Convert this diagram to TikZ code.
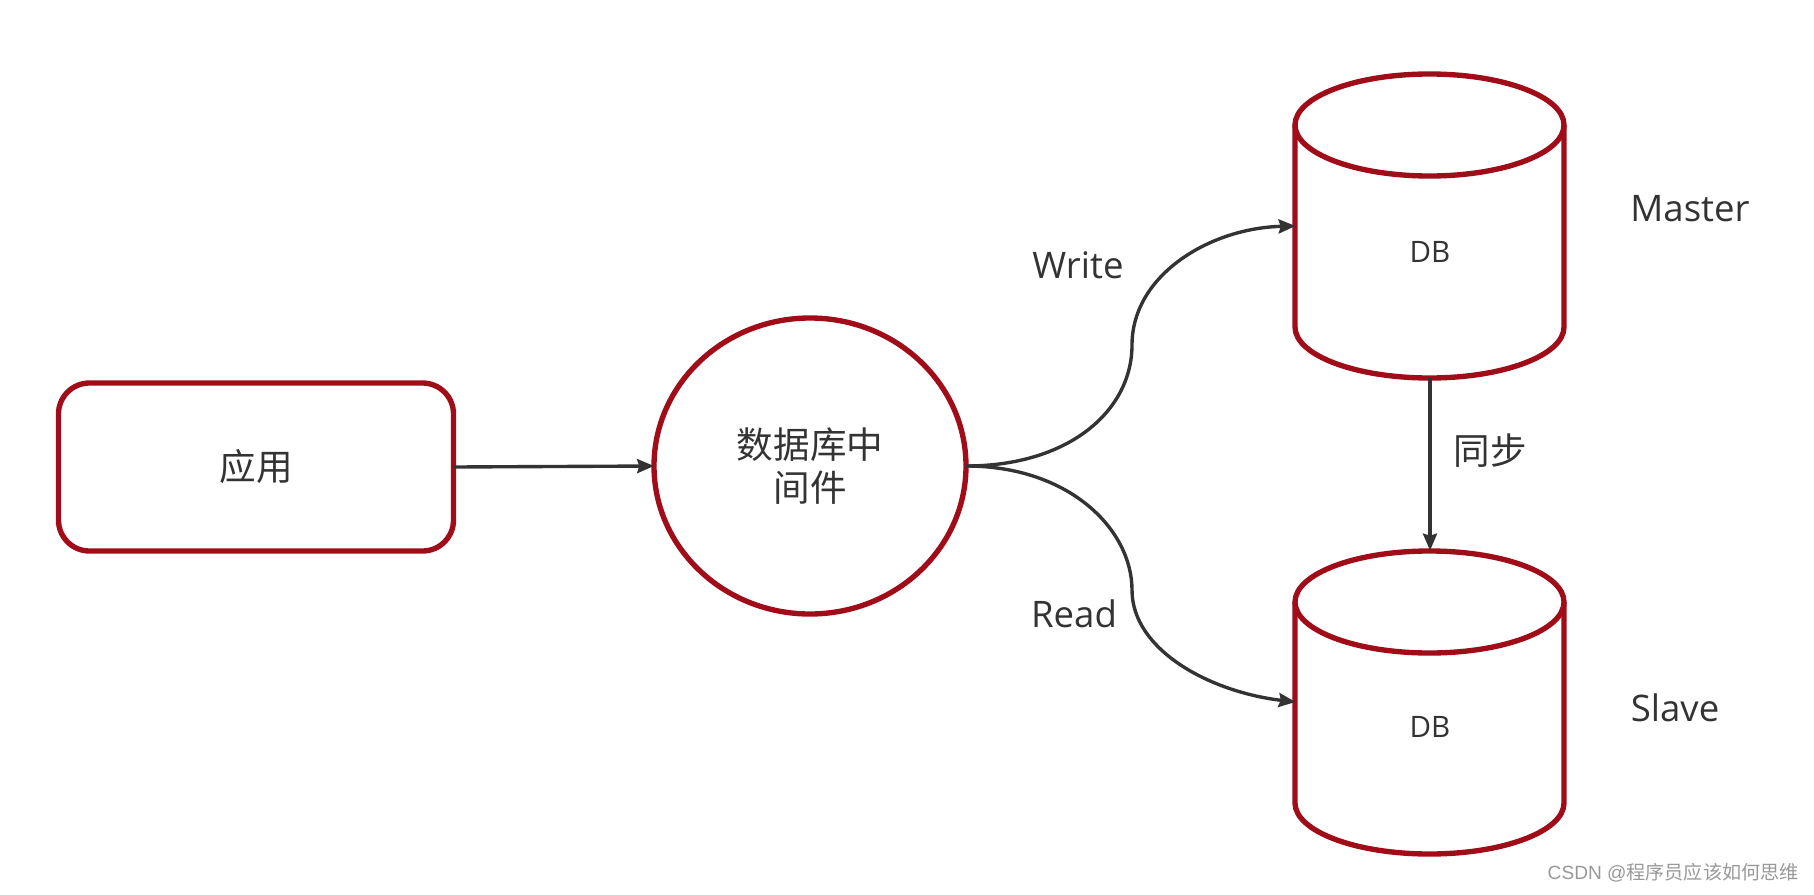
\documentclass[tikz,border=0pt]{standalone}
\usepackage{fontspec}
\setmainfont{Open Sans}
\newfontfamily\cjk{Noto Sans CJK SC}
\newfontfamily\wmfont{Liberation Sans}
\usetikzlibrary{arrows.meta,calc,shapes.geometric}
\definecolor{dbred}{HTML}{A00C18}
\definecolor{ink}{HTML}{333333}
\tikzset{
  px/.style={x=0.025cm,y=-0.025cm},
  shapeline/.style={draw=dbred,line width=3.8pt},
  conn/.style={draw=ink,line width=2.4pt,-{Stealth[length=12pt,width=10pt,inset=1.5pt]}},
  ghost/.style={draw=none,inner sep=0pt,outer sep=0pt},
  lab/.style={text=ink,inner sep=0pt,font=\fontsize{26}{30}\selectfont},
  cjklab/.style={text=ink,inner sep=0pt,align=center,font=\cjk\fontsize{26}{31}\selectfont},
  dblab/.style={text=ink,inner sep=0pt,font=\fontsize{21}{24}\selectfont},
}
\begin{document}
\begin{tikzpicture}[px]
\useasboundingbox (0,0) rectangle (1814,894);
\fill[white] (0,0) rectangle (1814,894);
% application
\node[shapeline,rounded corners=22pt,minimum width=395*0.025cm,minimum height=168*0.025cm,inner sep=0pt,outer sep=0pt,cjklab] (app) at (256,467) {\raisebox{-2.2pt}{应用}};
% middleware
\node[shapeline,ellipse,minimum width=312*0.025cm,minimum height=296*0.025cm,inner sep=0pt,outer sep=0pt,cjklab] (mid) at (810,466) {数据库中\\间件};
% master cylinder
\node[ghost,minimum width=269*0.025cm,minimum height=304*0.025cm] (master) at (1430,226) {};
\draw[shapeline] (1295,125) -- (1295,327) arc[start angle=180,end angle=360,x radius=134.5,y radius=-51] -- (1564,125);
\draw[shapeline] (1429.5,125) ellipse[x radius=134.5,y radius=51];
\node[dblab] (masterdb) at (1430,252) {DB};
% slave cylinder
\node[ghost,minimum width=269*0.025cm,minimum height=303*0.025cm] (slave) at (1430,702) {};
\draw[shapeline] (1295,602) -- (1295,803) arc[start angle=180,end angle=360,x radius=134.5,y radius=-51] -- (1564,602);
\draw[shapeline] (1429.5,602) ellipse[x radius=134.5,y radius=51];
\node[dblab] (slavedb) at (1430,727) {DB};
% connectors
\draw[conn] (app.east) -- (mid.west);
\draw[conn] (mid.east) .. controls (1070,466) and (1132,410) .. (1132,345) .. controls (1132,275) and (1210,228) .. (master.west);
\draw[conn] (mid.east) .. controls (1070,466) and (1132,530) .. (1132,590) .. controls (1132,650) and (1210,692) .. (slave.west);
\draw[conn] (master.south) -- (slave.north);
% labels
\node[lab] (write) at (1078,265) {Write};
\node[lab] (read) at (1074,614) {Read};
\node[cjklab] (sync) at (1490,451) {同步};
\node[lab] (mastert) at (1690,209) {Master};
\node[lab] (slavet) at (1675,708) {Slave};
\node[inner sep=0pt,text=black!40,font=\fontsize{13.6}{16}\selectfont,anchor=east] (wm) at (1799,873) {\wmfont CSDN @\cjk 程序员应该如何思维};
\end{tikzpicture}
\end{document}
